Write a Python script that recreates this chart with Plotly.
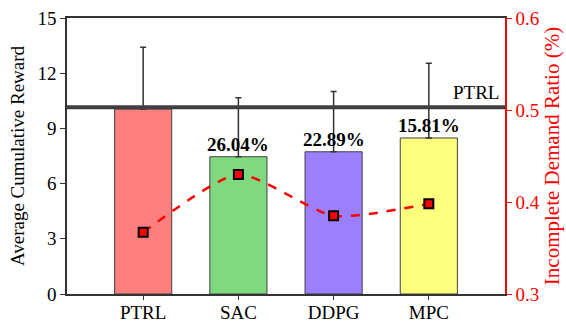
import plotly.graph_objects as go

categories = ["PTRL", "SAC", "DDPG", "MPC"]
reward = [10.05, 7.46, 7.73, 8.48]
reward_err = [3.36, 3.2, 3.27, 4.06]
incomplete_ratio = [0.367, 0.430, 0.385, 0.398]
pct_labels = ["", "26.04%", "22.89%", "15.81%"]
ptrl_ref = 10.15
bar_colors = ["#FF7F7F", "#7FD97F", "#9B7FFF", "#FFFF7F"]

FONT = "Times New Roman, Liberation Serif, serif"
xs = list(range(len(categories)))

fig = go.Figure()
fig.add_trace(go.Bar(
    x=xs, y=reward, width=0.6,
    marker=dict(color=bar_colors, line=dict(color="#404040", width=1)),
    error_y=dict(type="data", array=reward_err, arrayminus=[0]*4, symmetric=False,
                 color="#333333", thickness=1.5, width=3),
    showlegend=False,
))
fig.add_trace(go.Scatter(
    x=xs, y=incomplete_ratio, yaxis="y2", mode="lines+markers",
    line=dict(color="red", width=2.5, dash="dash", shape="spline", smoothing=0.6),
    marker=dict(symbol="square", size=9, color="red", line=dict(color="black", width=2)),
    showlegend=False,
))

fig.add_shape(type="line", xref="paper", x0=0, x1=1, yref="y", y0=ptrl_ref, y1=ptrl_ref,
              line=dict(color="#404040", width=4))
fig.add_annotation(xref="paper", x=1, y=ptrl_ref, yref="y", text="PTRL", showarrow=False,
                   xanchor="right", yanchor="bottom", xshift=-4, yshift=2,
                   font=dict(family=FONT, size=19, color="black"))
for i, t in enumerate(pct_labels):
    if t:
        fig.add_annotation(x=xs[i], y=reward[i], text="<b>%s</b>" % t, showarrow=False,
                           yanchor="bottom", yshift=0,
                           font=dict(family=FONT, size=19, color="black"))

fig.update_layout(
    width=566, height=322,
    margin=dict(l=67, r=61, t=18, b=28, autoexpand=False),
    plot_bgcolor="white", paper_bgcolor="white",
    font=dict(family=FONT, size=19, color="black"),
    xaxis=dict(range=[-0.8, 3.8], tickvals=xs, ticktext=categories, automargin=False,
               showline=True, linecolor="#333333", linewidth=1.5, mirror=True,
               ticks="outside", ticklen=4, tickcolor="#333333", ticklabelstandoff=-4,
               showgrid=False, zeroline=False),
    yaxis=dict(range=[0, 15], tickvals=[0, 3, 6, 9, 12, 15], automargin=False,
               title=dict(text="Average Cumulative Reward", font=dict(size=19), standoff=8),
               showline=True, linecolor="#333333", linewidth=1.5,
               ticks="outside", ticklen=5, tickcolor="#333333", showgrid=False, zeroline=False),
    yaxis2=dict(range=[0.3, 0.6], tickvals=[0.3, 0.4, 0.5, 0.6], tickformat=".1f",
                overlaying="y", side="right", automargin=False,
                title=dict(text="Incomplete Demand Ratio (%)", font=dict(size=21, color="red"), standoff=5),
                tickfont=dict(color="red"),
                showline=True, linecolor="red", linewidth=1.5,
                ticks="outside", ticklen=5, tickcolor="red", showgrid=False, zeroline=False),
)

fig.write_html("out.html", config={"displayModeBar": False},
               post_script="document.body.style.margin='0';document.body.style.padding='0';")
